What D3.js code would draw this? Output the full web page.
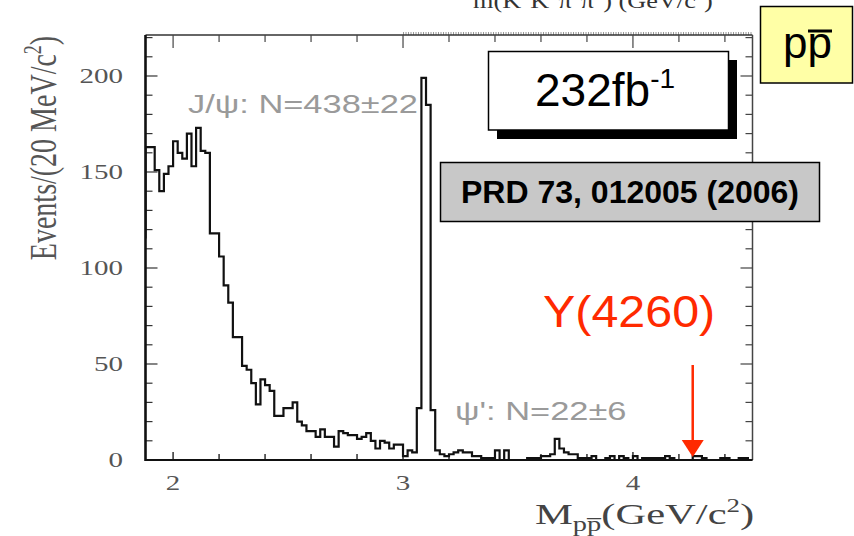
<!DOCTYPE html>
<html>
<head>
<meta charset="utf-8">
<script src="https://cdn.jsdelivr.net/npm/d3@7"></script>
<style>
  body { margin: 0; background: #ffffff; }
  svg { display: block; }
</style>
</head>
<body>
<svg id="chart" width="854" height="536"></svg>
<script>
// Histogram of M(p pbar): 20 MeV bins starting at 1.86 GeV/c^2
const binStart = 1.86;
const binWidth = 0.02;
const counts = [
  116, 163, 163, 151, 140, 149, 153, 166, 160, 157, 170, 153, 173, 161, 160,
  118, 118, 106, 91, 82, 64, 64, 49, 47, 40, 29, 42, 39, 36, 23, 23, 27, 27,
  30, 20, 18, 15, 15, 12, 16, 12, 12, 7, 15, 14, 13, 13, 11, 12, 14, 10, 6, 10, 9, 6, 8, 8,
  2, 5, 4, 27, 199, 185, 26, 5,
  3, 2, 3, 4, 5, 4, 4, 2, 2, 1, 1, 1, 5, 0, 5, 0, 0, 0, 0, 1,
  1, 1, 2, 2, 3, 11, 6, 4, 3, 3, 1, 1, 1, 2, 0, 0,
  1, 2, 0, 2, 1, 0, 2, 0, 1, 1, 1, 1, 1, 2, 1, 0, 0, 0, 0, 2,
  2, 1, 0, 0, 0, 1, 1, 0, 0, 1, 1, 0
];

// Axis domains and tick labels
const xDomain = [1.88, 4.52];
const yDomain = [0, 221.35];
const xTickLabels = [2, 3, 4];
const yTickLabels = [0, 50, 100, 150, 200];
const xMinorStep = 0.2;
const yMinorStep = 10;

// Annotation texts
const jpsiLabel = "J/\u03C8: N=438\u00B122";
const psi2sLabel = "\u03C8': N=22\u00B16";
const yStateLabel = "Y(4260)";
const yStateMass = 4.26;
const lumiText = "232fb";
const lumiExp = "-1";
const refText = "PRD 73, 012005 (2006)";

const svg = d3.select("#chart");
const W = 854, H = 536;
svg.append("rect").attr("width", W).attr("height", H).attr("fill", "#ffffff");

const plot = { left: 145.5, right: 752.5, top: 35, bottom: 460 };
const x = d3.scaleLinear().domain(xDomain).range([plot.left, plot.right]);
const y = d3.scaleLinear().domain(yDomain).range([plot.bottom, plot.top]);

const serif = "'Liberation Serif', 'DejaVu Serif', serif";
const sans = "'Liberation Sans', Arial, sans-serif";
const stretch = 1.38; // the embedded figure is widened horizontally

// Title of the panel above, running off the top edge
const topTitle = svg.append("text")
  .attr("transform", `translate(473,8) scale(1.25,1)`)
  .attr("font-family", serif).attr("font-size", 21).attr("fill", "#333");
topTitle.append("tspan").text("m(K");
topTitle.append("tspan").attr("dy", -8).attr("font-size", 13).text("+");
topTitle.append("tspan").attr("dy", 8).text("K");
topTitle.append("tspan").attr("dy", -8).attr("font-size", 13).text("\u2212");
topTitle.append("tspan").attr("dy", 8).text("\u03C0");
topTitle.append("tspan").attr("dy", -8).attr("font-size", 13).text("+");
topTitle.append("tspan").attr("dy", 8).text("\u03C0");
topTitle.append("tspan").attr("dy", -8).attr("font-size", 13).text("\u2212");
topTitle.append("tspan").attr("dy", 8).text(") (GeV/c");
topTitle.append("tspan").attr("dy", -8).attr("font-size", 13).text("2");
topTitle.append("tspan").attr("dy", 8).text(")");

// Dense minor ticks of the panel above, along the top frame
svg.append("line")
  .attr("x1", x(3.0)).attr("x2", plot.right)
  .attr("y1", plot.top - 1.5).attr("y2", plot.top - 1.5)
  .attr("stroke", "#9a9a9a").attr("stroke-width", 3)
  .attr("stroke-dasharray", "1,1.5");

// Frame
const frame = svg.append("g");
frame.append("line").attr("x1", plot.left).attr("x2", plot.right)
  .attr("y1", plot.top).attr("y2", plot.top).attr("stroke", "#333").attr("stroke-width", 1.5);
frame.append("line").attr("x1", plot.right).attr("x2", plot.right)
  .attr("y1", plot.top).attr("y2", plot.bottom).attr("stroke", "#444").attr("stroke-width", 1.5);

// Y ticks (left inward, right inward)
const yTickVals = d3.range(0, yDomain[1], yMinorStep);
yTickVals.forEach(v => {
  const major = v % 50 === 0;
  const len = major ? 12 : 7;
  frame.append("line").attr("x1", plot.left).attr("x2", plot.left + len)
    .attr("y1", y(v)).attr("y2", y(v)).attr("stroke", "#333").attr("stroke-width", 1.2);
  frame.append("line").attr("x1", plot.right).attr("x2", plot.right - len)
    .attr("y1", y(v)).attr("y2", y(v)).attr("stroke", "#444").attr("stroke-width", 1.2);
});

// X ticks (bottom pointing up, top pointing down)
const xTickVals = d3.range(2.0, xDomain[1], xMinorStep).map(v => +v.toFixed(2));
xTickVals.forEach(v => {
  const major = Math.abs(v - Math.round(v)) < 1e-6;
  frame.append("line").attr("x1", x(v)).attr("x2", x(v))
    .attr("y1", plot.bottom).attr("y2", plot.bottom - (major ? 8 : 6))
    .attr("stroke", "#222").attr("stroke-width", 1.4);
  frame.append("line").attr("x1", x(v)).attr("x2", x(v))
    .attr("y1", plot.top).attr("y2", plot.top + (major ? 13 : 7))
    .attr("stroke", "#444").attr("stroke-width", 1.2);
});

// Histogram
svg.append("clipPath").attr("id", "plotClip").append("rect")
  .attr("x", plot.left).attr("y", plot.top)
  .attr("width", plot.right - plot.left).attr("height", plot.bottom - plot.top);

const steps = counts.map((c, i) => [binStart + i * binWidth, c]);
steps.push([binStart + counts.length * binWidth, counts[counts.length - 1]]);

const line = d3.line()
  .x(d => x(d[0]))
  .y(d => y(d[1]))
  .curve(d3.curveStepAfter);

svg.append("path")
  .datum(steps)
  .attr("clip-path", "url(#plotClip)")
  .attr("d", line)
  .attr("fill", "none")
  .attr("stroke", "#111")
  .attr("stroke-width", 2.2)
  .attr("stroke-linejoin", "miter");

// Left and bottom axis lines (heavier)
svg.append("line").attr("x1", plot.left).attr("x2", plot.left)
  .attr("y1", plot.top).attr("y2", plot.bottom + 1).attr("stroke", "#111").attr("stroke-width", 2.6);
svg.append("line").attr("x1", plot.left).attr("x2", plot.right)
  .attr("y1", plot.bottom).attr("y2", plot.bottom).attr("stroke", "#111").attr("stroke-width", 2.2);

// Tick labels
yTickLabels.forEach(v => {
  svg.append("text")
    .attr("transform", `translate(123,${y(v) + 7}) scale(${stretch},1)`)
    .attr("text-anchor", "end")
    .attr("font-family", serif).attr("font-size", 21).attr("fill", "#555")
    .text(v);
});
xTickLabels.forEach(v => {
  svg.append("text")
    .attr("transform", `translate(${x(v)},${490}) scale(${stretch},1)`)
    .attr("text-anchor", "middle")
    .attr("font-family", serif).attr("font-size", 21).attr("fill", "#555")
    .text(v);
});

// Axis titles
const yTitle = svg.append("text")
  .attr("transform", `translate(56,148) scale(${stretch},1) rotate(-90)`)
  .attr("text-anchor", "middle")
  .attr("font-family", serif).attr("font-size", 28).attr("fill", "#555");
yTitle.append("tspan").text("Events/(20 MeV/c");
yTitle.append("tspan").attr("dy", -11).attr("font-size", 18).text("2");
yTitle.append("tspan").attr("dy", 11).text(")");

const xTitle = svg.append("text")
  .attr("transform", `translate(535,524) scale(1.42,1)`)
  .attr("font-family", serif).attr("font-size", 30).attr("fill", "#444");
xTitle.append("tspan").text("M");
xTitle.append("tspan").attr("dy", 7).attr("font-size", 20).text("p\u0070\u0305");
xTitle.append("tspan").attr("dy", -7).text("(GeV/c");
xTitle.append("tspan").attr("dy", -12).attr("font-size", 19).text("2");
xTitle.append("tspan").attr("dy", 12).text(")");

// Peak labels from the figure
svg.append("text")
  .attr("transform", `translate(188,113) scale(1.35,1)`)
  .attr("font-family", sans).attr("font-size", 25.5).attr("fill", "#9a9a9a")
  .text(jpsiLabel);
svg.append("text")
  .attr("transform", `translate(455,420) scale(1.35,1)`)
  .attr("font-family", sans).attr("font-size", 25.5).attr("fill", "#9a9a9a")
  .text(psi2sLabel);

// Y(4260) marker
const red = "#ff2a00";
svg.append("text")
  .attr("transform", `translate(543,327) scale(1.1,1)`)
  .attr("font-family", sans).attr("font-size", 44).attr("fill", red)
  .text(yStateLabel);
const ax = x(yStateMass);
svg.append("line").attr("x1", ax).attr("x2", ax).attr("y1", 365).attr("y2", 443)
  .attr("stroke", red).attr("stroke-width", 2.5);
svg.append("path")
  .attr("d", `M${ax - 11},440 L${ax + 11},440 L${ax},457 Z`)
  .attr("fill", red);

// Luminosity box with drop shadow
svg.append("rect").attr("x", 497).attr("y", 60).attr("width", 240).attr("height", 79).attr("fill", "#000");
svg.append("rect").attr("x", 488.5).attr("y", 51.5).attr("width", 240).attr("height", 78.5)
  .attr("fill", "#fff").attr("stroke", "#000").attr("stroke-width", 1.5);
const lumi = svg.append("text").attr("x", 535).attr("y", 106)
  .attr("font-family", sans).attr("font-size", 46).attr("fill", "#000");
lumi.append("tspan").text(lumiText);
lumi.append("tspan").attr("dy", -18).attr("font-size", 28).text(lumiExp);

// Reference box
svg.append("rect").attr("x", 440.5).attr("y", 162.5).attr("width", 379).attr("height", 59)
  .attr("fill", "#c8c8c8").attr("stroke", "#000").attr("stroke-width", 1.5);
svg.append("text").attr("x", 630).attr("y", 203).attr("text-anchor", "middle")
  .attr("font-family", sans).attr("font-weight", "bold").attr("font-size", 32).attr("fill", "#000")
  .text(refText);

// Channel box (p pbar)
svg.append("rect").attr("x", 760.5).attr("y", 6.5).attr("width", 92).attr("height", 76.5)
  .attr("fill", "#ffffa6").attr("stroke", "#000").attr("stroke-width", 1.5);
svg.append("text").attr("x", 783).attr("y", 58)
  .attr("font-family", sans).attr("font-size", 44).attr("fill", "#000")
  .text("pp");
svg.append("line").attr("x1", 808).attr("x2", 832).attr("y1", 31).attr("y2", 31)
  .attr("stroke", "#000").attr("stroke-width", 3);
</script>
</body>
</html>
